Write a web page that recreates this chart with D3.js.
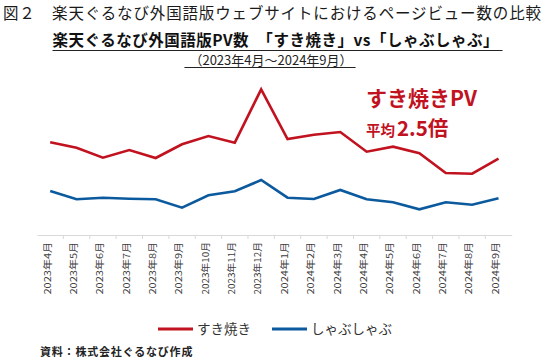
<!DOCTYPE html>
<html><head><meta charset="utf-8">
<script src="https://cdn.jsdelivr.net/npm/d3@7"></script>
<style>
html,body{margin:0;padding:0;background:#fff;}
text{font-family:"Noto Sans CJK JP","Noto Sans",sans-serif;}
</style></head>
<body><svg id="c" width="550" height="357"></svg>
<script>
const categories = ["2023年4月","2023年5月","2023年6月","2023年7月","2023年8月","2023年9月","2023年10月","2023年11月","2023年12月","2024年1月","2024年2月","2024年3月","2024年4月","2024年5月","2024年6月","2024年7月","2024年8月","2024年9月"];
const sukiyaki = [92.7,87.3,77.3,85,77,90.7,99,92.3,145.7,96,100.3,103,83.3,88.3,81.7,62,61.3,76.3];
const shabushabu = [44,35.7,37.3,36.3,35.7,27.3,39.7,43.7,55,37.3,36,45,35.7,32.7,25.7,32.7,30.3,36.7];
const seriesNames = ["すき焼き","しゃぶしゃぶ"];
const titleText = "図２　楽天ぐるなび外国語版ウェブサイトにおけるページビュー数の比較";
const subtitleText = "楽天ぐるなび外国語版PV数　「すき焼き」vs「しゃぶしゃぶ」";
const periodText = "（2023年4月～2024年9月）";
const noteLine1 = "すき焼きPV";
const noteLine2a = "平均";
const noteLine2b = "2.5倍";
const sourceText = "資料：株式会社ぐるなび作成";

const RED = "#c1121f", BLUE = "#0c5a9e";
const svg = d3.select("#c");
svg.append("rect").attr("width",550).attr("height",357).attr("fill","#fff");

// titles
svg.append("text").attr("x",3).attr("y",18.5).attr("font-size",15.5)
  .attr("textLength",538).attr("lengthAdjust","spacing")
  .attr("fill","#1a1a1a").text(titleText);
const st = svg.append("text").attr("x",275.5).attr("y",46).attr("text-anchor","middle")
  .attr("font-size",15.5).attr("font-weight","bold").attr("fill","#111")
  .attr("textLength",446).attr("lengthAdjust","spacing").text(subtitleText);
const sb = st.node().getBBox();
svg.append("line").attr("x1",sb.x).attr("x2",sb.x+sb.width+4).attr("y1",50.5).attr("y2",50.5)
  .attr("stroke","#222").attr("stroke-width",1);
const pt = svg.append("text").attr("x",271).attr("y",65).attr("text-anchor","middle")
  .attr("font-size",13).attr("fill","#222").text(periodText);
const pb = pt.node().getBBox();
svg.append("line").attr("x1",pb.x-5).attr("x2",pb.x+pb.width+3).attr("y1",67.5).attr("y2",67.5)
  .attr("stroke","#222").attr("stroke-width",1);

// scales
const x = d3.scaleBand().domain(categories).range([37,511.7]).padding(0);
const bw = x.bandwidth();
const y = d3.scaleLinear().domain([0,150]).range([235,85]);
const cx = d => x(d)+bw/2;

// axis
const axis = d3.axisBottom(x).tickSizeInner(4).tickSizeOuter(0).tickPadding(0);
const gA = svg.append("g").attr("transform","translate(0,235)").call(axis);
gA.select(".domain").attr("stroke","#d9d9d9").attr("stroke-width",1);
gA.selectAll(".tick line").attr("stroke","#d9d9d9").attr("x1",bw/2).attr("x2",bw/2)
  .attr("display",(d,i)=>i===categories.length-1?"none":null);
gA.selectAll(".tick text")
  .attr("transform","rotate(-90)")
  .attr("text-anchor","end")
  .attr("x",-7).attr("y",-3).attr("dy","0.35em")
  .attr("font-size",9.5).attr("fill","#404040")
  .attr("font-family",'"Noto Sans CJK JP",sans-serif')
  .attr("textLength",d=>d.length>8?67.5:52.5)
  .attr("lengthAdjust","spacingAndGlyphs");

// lines
const line = d3.line().x((d,i)=>cx(categories[i])).y(d=>y(d));
svg.append("path").datum(shabushabu).attr("d",line).attr("fill","none")
  .attr("stroke",BLUE).attr("stroke-width",2.6).attr("stroke-linejoin","miter");
svg.append("path").datum(sukiyaki).attr("d",line).attr("fill","none")
  .attr("stroke",RED).attr("stroke-width",2.6).attr("stroke-linejoin","miter");

// annotation
svg.append("text").attr("x",366).attr("y",106).attr("font-size",21).attr("font-weight","bold")
  .attr("fill",RED).text(noteLine1);
const n2 = svg.append("text").attr("x",366).attr("y",136).attr("font-weight","bold").attr("fill",RED);
n2.append("tspan").attr("font-size",14.5).text(noteLine2a);
n2.append("tspan").attr("font-size",20.5).attr("dx",2).text(noteLine2b);

// legend
const legend = [{name:seriesNames[0],color:RED,x:158},{name:seriesNames[1],color:BLUE,x:272}];
const lg = svg.append("g");
legend.forEach(l=>{
  lg.append("line").attr("x1",l.x).attr("x2",l.x+35).attr("y1",329).attr("y2",329)
    .attr("stroke",l.color).attr("stroke-width",3);
  lg.append("text").attr("x",l.x+39).attr("y",334).attr("font-size",13.5).attr("fill","#333").text(l.name);
});

// source
svg.append("text").attr("x",40).attr("y",355.5).attr("font-size",11).attr("letter-spacing",0.8)
  .attr("font-weight","bold").attr("fill","#222").text(sourceText);
</script></body></html>
